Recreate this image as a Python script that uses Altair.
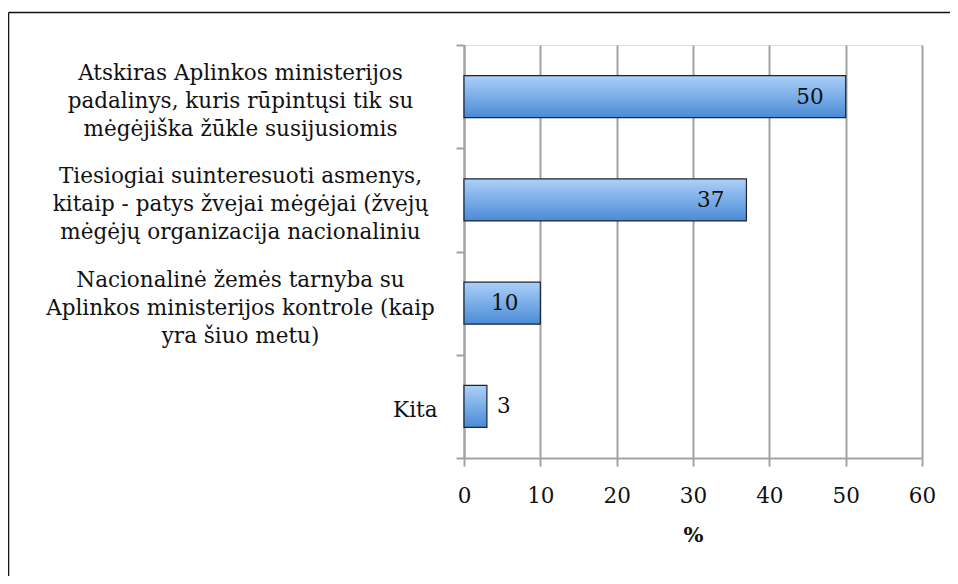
import altair as alt
import pandas as pd

categories = [
    "Atskiras Aplinkos ministerijos|padalinys, kuris rūpintųsi tik su|mėgėjiška žūkle susijusiomis",
    "Tiesiogiai suinteresuoti asmenys,|kitaip - patys žvejai mėgėjai (žvejų|mėgėjų organizacija nacionaliniu",
    "Nacionalinė žemės tarnyba su|Aplinkos ministerijos kontrole (kaip|yra šiuo metu)",
    "Kita",
]
values = [50, 37, 10, 3]
x_ticks = [0, 10, 20, 30, 40, 50, 60]

df = pd.DataFrame({"category": categories, "value": values})

FONT = "DejaVu Serif"
GRID = "#a3a3a3"
FS = 21.5

y_enc = alt.Y(
    "category:N",
    sort=categories,
    scale=alt.Scale(domain=categories, paddingInner=0, paddingOuter=0),
    axis=alt.Axis(
        title=None,
        labelExpr="split(datum.label, '|')",
        tickBand="extent",
        grid=False,
        labelFont=FONT,
        labelFontSize=FS,
        labelColor="#111111",
        labelLineHeight=28,
        labelLimit=600,
        labelAlign={"condition": {"test": "datum.value == 'Kita'", "value": "right"}, "value": "center"},
        labelPadding={"condition": {"test": "datum.value == 'Kita'", "value": 19}, "value": 216},
        labelOffset={"condition": {"test": "datum.value == 'Kita'", "value": 4}, "value": -23},
        tickSize=8,
        tickColor=GRID,
        tickWidth=2,
        domainColor=GRID,
        domainWidth=2,
    ),
)

x_enc = alt.X(
    "value:Q",
    scale=alt.Scale(domain=[0, 60], nice=False, zero=True),
    axis=alt.Axis(
        values=x_ticks,
        title="%",
        titleFont=FONT,
        titleFontSize=21,
        titleFontWeight="bold",
        titleColor="#111111",
        titlePadding=18,
        labelFont=FONT,
        labelFontSize=FS,
        labelColor="#111111",
        labelPadding=19,
        labelFlush=False,
        grid=True,
        gridColor=GRID,
        gridWidth=2,
        tickSize=8,
        tickColor=GRID,
        tickWidth=2,
        domainColor=GRID,
        domainWidth=2,
    ),
)

base = alt.Chart(df).encode(x=x_enc, y=y_enc)

bars = base.mark_bar(
    size=42,
    fill=alt.Gradient(
        gradient="linear",
        x1=0, x2=0, y1=0, y2=1,
        stops=[
            alt.GradientStop(color="#acd0f9", offset=0),
            alt.GradientStop(color="#4a8bd6", offset=1),
        ],
    ),
    stroke="#1c2530",
    strokeWidth=1.2,
)

text_in = base.transform_filter("datum.value >= 10").mark_text(
    align="right", baseline="middle", dx=-22, dy=1, font=FONT, fontSize=FS, color="#111111"
).encode(text="value:Q")

text_out = base.transform_filter("datum.value < 10").mark_text(
    align="left", baseline="middle", dx=10, dy=1, font=FONT, fontSize=FS, color="#111111"
).encode(text="value:Q")

frame_df = pd.DataFrame({"a": [0]})
frame_left = alt.Chart(frame_df).mark_rule(color="#111111", strokeWidth=1.5).encode(
    x=alt.value(-455.5), y=alt.value(-32.5), y2=alt.value(540)
)
frame_top = alt.Chart(frame_df).mark_rule(color="#111111", strokeWidth=1.5).encode(
    x=alt.value(-455.5), x2=alt.value(486), y=alt.value(-32.5)
)

chart = (
    alt.layer(bars, text_in, text_out, frame_left, frame_top)
    .properties(
        width=458,
        height=413,
        autosize=alt.AutoSizeParams(type="none"),
        padding={"left": 456, "top": 37, "right": 28, "bottom": 118},
    )
    .configure_view(stroke=None)
    .configure(background="white")
)

chart.save("out.html", embed_options={"renderer": "svg", "actions": False})
